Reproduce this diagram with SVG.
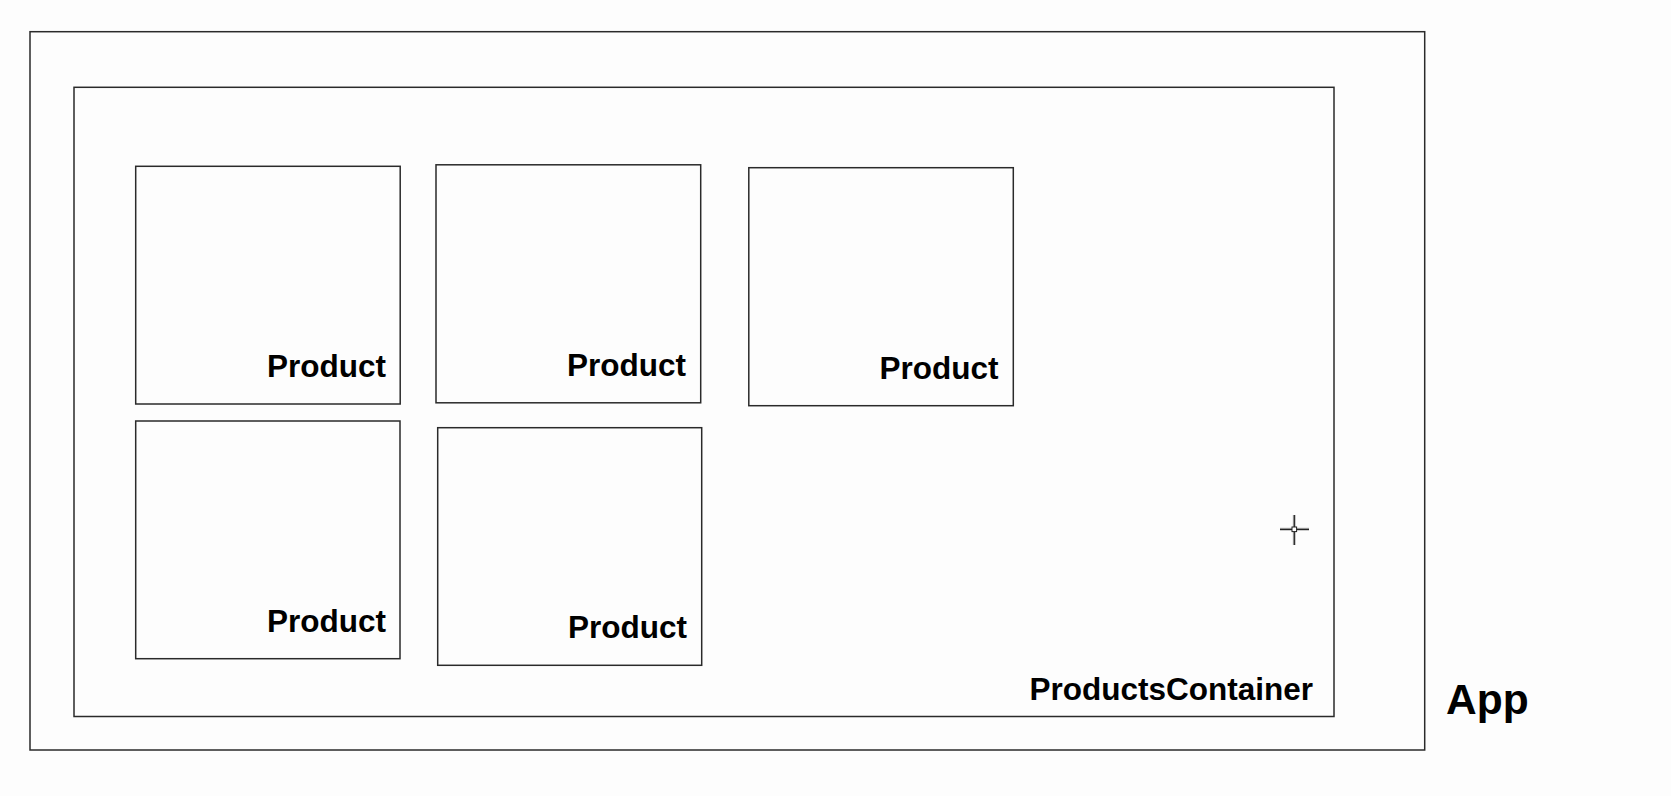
<svg xmlns="http://www.w3.org/2000/svg" width="1671" height="796" viewBox="0 0 1671 796">
  <style>
    .box { fill: none; stroke: #2a2a2a; stroke-width: 1.5; }
    .lbl { font-family: "Liberation Sans", Arial, sans-serif; font-weight: bold; font-size: 31.5px; fill: #000; text-anchor: end; }
    .app { font-family: "Liberation Sans", Arial, sans-serif; font-weight: bold; font-size: 42.5px; fill: #000; }
  </style>
  <rect x="0" y="0" width="1671" height="796" fill="#fdfdfd"/>
  <g id="app">
    <rect class="box" x="30" y="31.7" width="1394.7" height="718.3"/>
    <text class="app" x="1446" y="714">App</text>
  </g>
  <g id="products-container">
    <rect class="box" x="74" y="87.3" width="1260" height="629.2"/>
    <text class="lbl" x="1313" y="699.5">ProductsContainer</text>
  </g>
  <g id="product-1">
    <rect class="box" x="135.7" y="166.3" width="264.5" height="237.7"/>
    <text class="lbl" x="386" y="377.3">Product</text>
  </g>
  <g id="product-2">
    <rect class="box" x="436" y="164.8" width="264.7" height="238"/>
    <text class="lbl" x="686" y="375.5">Product</text>
  </g>
  <g id="product-3">
    <rect class="box" x="748.8" y="167.7" width="264.5" height="238"/>
    <text class="lbl" x="998.6" y="378.8">Product</text>
  </g>
  <g id="product-4">
    <rect class="box" x="135.7" y="421" width="264.3" height="237.7"/>
    <text class="lbl" x="386" y="631.7">Product</text>
  </g>
  <g id="product-5">
    <rect class="box" x="437.7" y="427.7" width="264" height="237.6"/>
    <text class="lbl" x="687" y="638.3">Product</text>
  </g>
  <g id="connectors"></g>
  <g id="cursor" stroke-linecap="butt">
    <path d="M1280 529.3 H1309 M1294.3 515 V545" stroke="#bbb" stroke-width="3"/>
    <path d="M1280 529.3 H1309 M1294.3 515 V545" stroke="#222" stroke-width="1.2"/>
    <rect x="1292" y="527" width="4.6" height="4.6" fill="#fff" stroke="#222" stroke-width="1"/>
  </g>
</svg>
